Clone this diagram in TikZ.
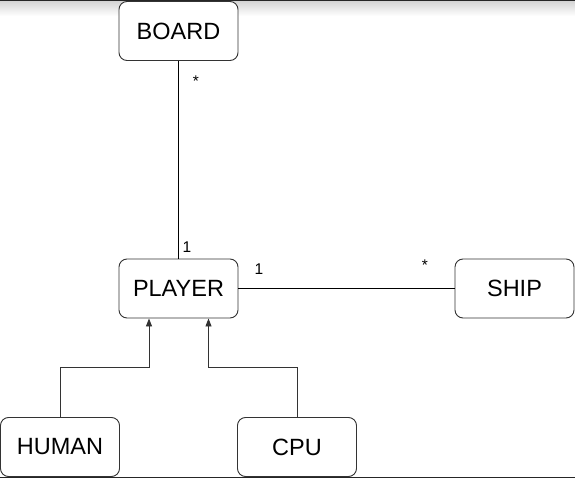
\documentclass[tikz,border=0pt]{standalone}
\usepackage{fontspec}
\setmainfont{Liberation Sans}
\usetikzlibrary{arrows.meta}
\begin{document}
\begin{tikzpicture}[x=1pt,y=-1pt,
 cls/.style={draw=black!80, rounded corners=8pt, minimum width=119pt, minimum height=59pt, inner sep=0pt, font=\fontsize{23.5}{28}\selectfont, line width=0.9pt, fill=white},
 lbl/.style={font=\fontsize{15.5}{18}\selectfont, inner sep=0pt},
 inh/.style={-{Triangle[width=6pt,length=8pt]}, line width=0.9pt, draw=black!80},
 assoc/.style={line width=0.9pt, draw=black}]
\useasboundingbox (0,0) rectangle (575,478);
\shade[top color=black!18, bottom color=white] (0,0) rectangle (575,16);
\fill[black!85] (0,0) rectangle (575,1.5);
\fill[black!85] (0,476.5) rectangle (575,478);

\node[cls] (board)  at (178.5,31)  {BOARD};
\node[cls] (player) at (178.5,288.5) {PLAYER};
\node[cls] (ship)   at (514.5,288.5) {SHIP};
\node[cls] (human)  at (60,447)    {HUMAN};
\node[cls] (cpu)    at (297,447)   {CPU};

\draw[assoc] (board) -- (player);
\draw[assoc] (player) -- (ship);

\coordinate (hj) at (149,367);
\coordinate (cj) at (208.5,367);
\draw[inh] (human.north) |- (hj) -- (hj |- player.south);
\draw[inh] (cpu.north) |- (cj) -- (cj |- player.south);

\node[lbl] (m1) at (196,81)  {*};
\node[lbl] (m2) at (187,247) {1};
\node[lbl] (m3) at (259,269) {1};
\node[lbl] (m4) at (425,265) {*};
\end{tikzpicture}
\end{document}
